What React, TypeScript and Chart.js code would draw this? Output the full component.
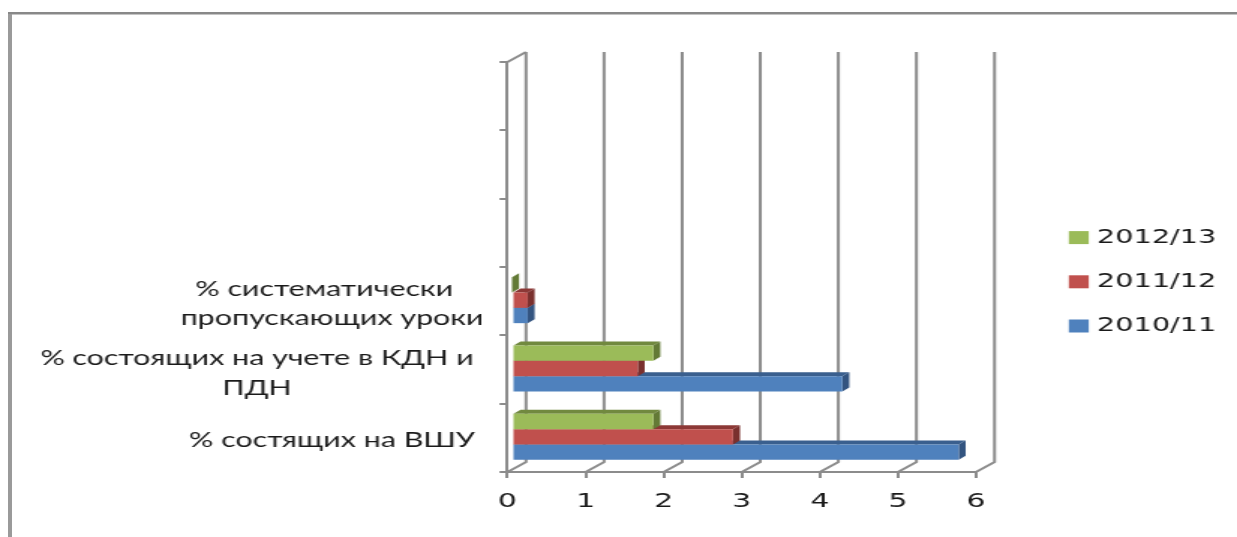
import React, { useEffect, useRef } from "react";
import { Chart, registerables } from "chart.js";

Chart.register(...registerables);

const categories: (string | string[])[] = [
  "",
  "",
  "",
  ["% систематически  ", "пропускающих уроки"],
  ["% состоящих на учете в КДН и", "ПДН"],
  "% состящих на ВШУ",
];
const series2012 = [null, null, null, 0, 1.81, 1.81];
const series2011 = [null, null, null, 0.2, 1.61, 2.83];
const series2010 = [null, null, null, 0.2, 4.23, 5.72];
const seriesNames = ["2012/13", "2011/12", "2010/11"];
const xTicks = [0, 1, 2, 3, 4, 5, 6];

const frontColors = ["#9bbb59", "#c0504d", "#4f81bd"];
const topColors = ["#71893f", "#8c3836", "#3a5f8e"];
const sideColors = ["#637a36", "#7a302e", "#335480"];

const W = 1237;
const H = 537;
const SX = 1.5;
const IW = Math.round(W / SX);
const kx = W / IW;
const px = (v: number) => v / kx;

const GRID = "#8c8c8c";
const WALL_DX = px(18.5);
const WALL_DY = 10;
const BAR_SHIFT = px(4.5);
const BAR_DX = px(7);
const BAR_DY = 4;

// label block placement [centre in page px, y shift]
const labelCentre: Record<number, [number, number]> = {
  3: [332, 3],
  4: [257, 4],
  5: [332, 3],
};

const fillPoly = (ctx: CanvasRenderingContext2D, pts: number[][], color: string) => {
  ctx.fillStyle = color;
  ctx.beginPath();
  pts.forEach(([x, y], i) => (i ? ctx.lineTo(x, y) : ctx.moveTo(x, y)));
  ctx.closePath();
  ctx.fill();
};

const depthPlugin = {
  id: "depth",
  beforeLayout(chart: any) {
    const legend = chart.legend;
    if (legend && !legend.__wrapped) {
      const fit = legend.fit;
      legend.fit = function () {
        fit.call(this);
        this.width = 0;
      };
      legend.__wrapped = true;
    }
  },
  afterLayout(chart: any) {
    const legend = chart.legend;
    legend.left = 692;
    legend.right = IW;
    legend.top = 203;
    legend.bottom = 403;
    const y = chart.scales.y;
    y.getLabelItems().forEach((item: any) => {
      const idx = y.ticks.findIndex((t: any) => t.label === item.label);
      const place = labelCentre[idx];
      if (!place) return;
      item.options.textAlign = "center";
      item.options.translation = [px(place[0]), item.options.translation[1] + place[1]];
    });
  },
  beforeDatasetsDraw(chart: any) {
    const { ctx, chartArea: a, scales } = chart;
    const x = scales.x;
    ctx.save();
    ctx.strokeStyle = GRID;
    ctx.lineWidth = 2;
    xTicks.forEach((v) => {
      const p = x.getPixelForValue(v);
      ctx.beginPath();
      ctx.moveTo(p, a.bottom);
      ctx.lineTo(p + WALL_DX, a.bottom - WALL_DY);
      ctx.lineTo(p + WALL_DX, a.top - WALL_DY);
      ctx.stroke();
    });
    ctx.beginPath();
    ctx.moveTo(a.left, a.top);
    ctx.lineTo(a.left + WALL_DX, a.top - WALL_DY);
    ctx.stroke();
    ctx.restore();
  },
  beforeDatasetDraw(chart: any, args: any) {
    const { ctx } = chart;
    const i = args.index;
    ctx.save();
    ctx.translate(BAR_SHIFT, -1);
    args.meta.data.forEach((bar: any, k: number) => {
      if (chart.data.datasets[i].data[k] == null) return;
      const top = bar.y - bar.height / 2;
      const bottom = bar.y + bar.height / 2;
      fillPoly(
        ctx,
        [
          [bar.base, top],
          [bar.base + BAR_DX, top - BAR_DY],
          [bar.x + BAR_DX, top - BAR_DY],
          [bar.x, top],
        ],
        topColors[i]
      );
      fillPoly(
        ctx,
        [
          [bar.x, top],
          [bar.x + BAR_DX, top - BAR_DY],
          [bar.x + BAR_DX, bottom - BAR_DY],
          [bar.x, bottom],
        ],
        sideColors[i]
      );
    });
  },
  afterDatasetDraw(chart: any) {
    chart.ctx.restore();
  },
};

export default function App() {
  const ref = useRef<HTMLCanvasElement>(null);

  useEffect(() => {
    document.body.style.margin = "0";
    document.body.style.overflow = "hidden";
    const chart = new Chart(ref.current!, {
      type: "bar",
      plugins: [depthPlugin],
      data: {
        labels: categories as any,
        datasets: [series2012, series2011, series2010].map((data, i) => ({
          label: seriesNames[i],
          data,
          backgroundColor: frontColors[i],
          borderWidth: 0,
          barPercentage: 1,
          categoryPercentage: 0.673,
          clip: false as any,
        })),
      },
      options: {
        indexAxis: "y",
        animation: false,
        responsive: false,
        devicePixelRatio: 1,
        layout: { padding: { left: 0, top: 62, right: IW - px(976), bottom: 0 } },
        plugins: {
          tooltip: { enabled: false },
          legend: {
            position: "right",
            align: "start",
            labels: {
              boxWidth: 4.93,
              boxHeight: 4.6,
              padding: 25,
              color: "#1a1a1a",
              font: { family: "'DejaVu Sans'", size: 19.2 },
              generateLabels: (c: any) =>
                c.data.datasets.map((d: any, i: number) => ({
                  text: d.label,
                  fillStyle: frontColors[i],
                  strokeStyle: frontColors[i],
                  lineWidth: 8.4,
                  fontColor: "#1a1a1a",
                  hidden: false,
                  datasetIndex: i,
                })),
            },
          },
        },
        scales: {
          x: {
            min: 0,
            max: 6,
            afterFit: (s: any) => {
              s.height = H - 472;
            },
            grid: { drawOnChartArea: false, drawTicks: true, tickLength: 6, color: GRID, lineWidth: 2 },
            border: { display: true, color: GRID, width: 2 },
            ticks: {
              stepSize: 1,
              maxRotation: 0,
              padding: 12,
              color: "#1a1a1a",
              font: { family: "'DejaVu Sans'", size: 20 },
            },
          },
          y: {
            afterFit: (s: any) => {
              s.width = px(507.5);
            },
            grid: { drawOnChartArea: false, drawTicks: true, tickLength: px(8), color: GRID, lineWidth: 2 },
            border: { display: true, color: GRID, width: 2 },
            ticks: {
              autoSkip: false,
              padding: 8,
              color: "#1a1a1a",
              font: { family: "Lato", size: 20.3, lineHeight: 1.45 },
            },
          },
        },
      },
    });
    return () => chart.destroy();
  }, []);

  return (
    <div style={{ position: "absolute", left: 0, top: 0, width: W, height: H, overflow: "hidden", background: "#fff" }}>
      <div style={{ position: "absolute", left: 8, top: 12, width: 4, bottom: 0, background: "#9a9a9a" }} />
      <div style={{ position: "absolute", left: 8, right: 0, top: 12, height: 2, background: "#888" }} />
      <div style={{ position: "absolute", left: 12, right: 0, top: 14, height: 1, background: "#c4c4c4" }} />
      <div style={{ position: "absolute", left: 0, top: 0, width: IW, height: H, transform: `scaleX(${kx})`, transformOrigin: "0 0", filter: "blur(0.45px)" }}>
        <canvas ref={ref} width={IW} height={H} style={{ display: "block" }} />
      </div>
    </div>
  );
}
